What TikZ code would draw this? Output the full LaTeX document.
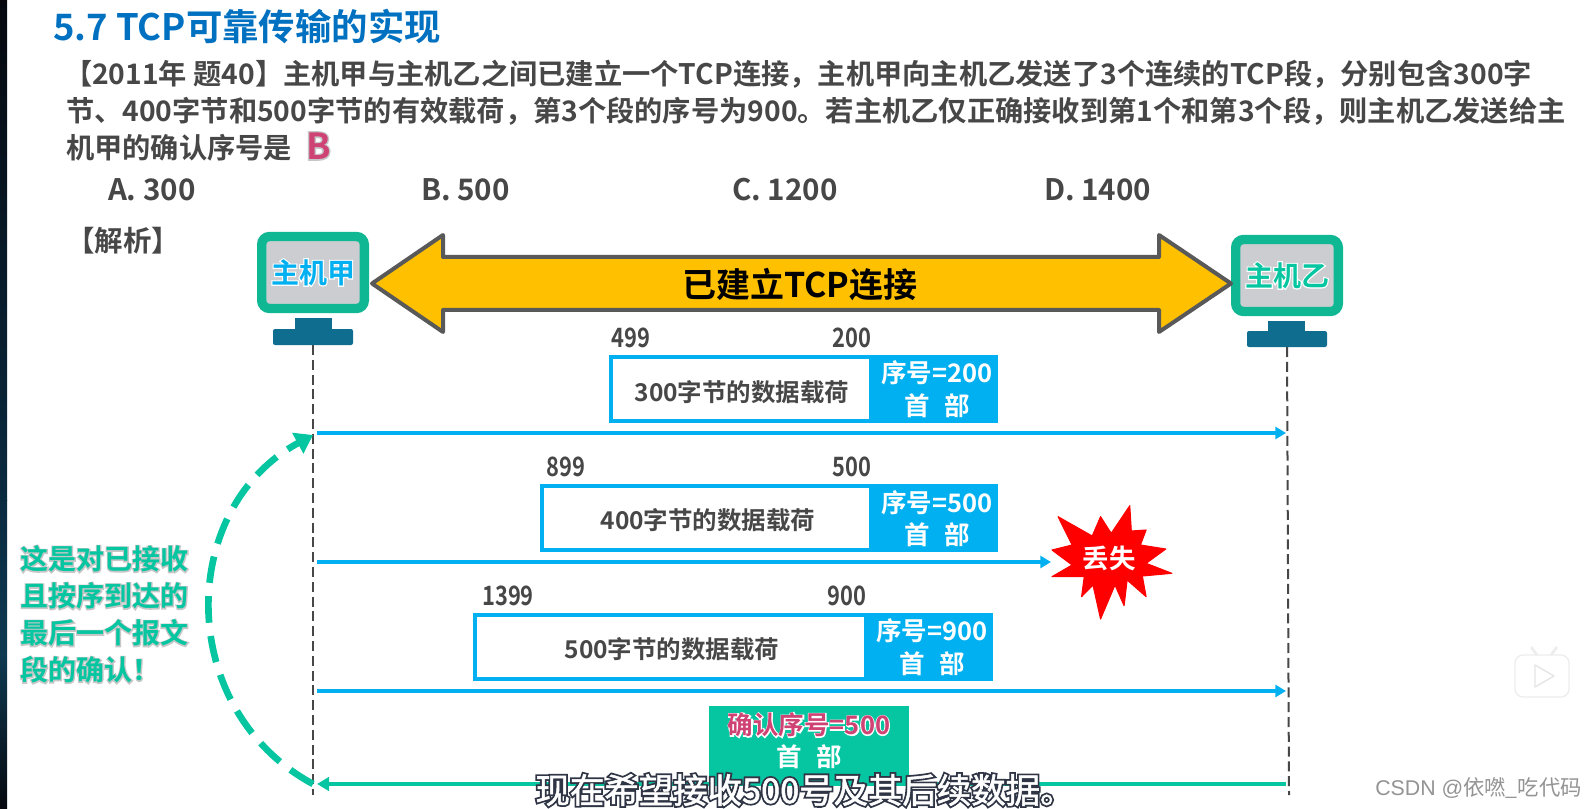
\documentclass[tikz,border=0pt]{standalone}
\usepackage{fontspec}
\usetikzlibrary{arrows.meta}
\setmainfont{Noto Sans CJK SC Bold}
\newfontfamily\halofont{Noto Sans CJK SC Bold}[FakeBold=8]
\newfontfamily\regfont{Noto Sans CJK SC}[FakeBold=1.5]
\newfontfamily\reghalo{Noto Sans CJK SC}[FakeBold=12]
\newfontfamily\numfont{Noto Sans CJK SC Bold}[FakeStretch=0.82]
\newfontfamily\plainfont{Noto Sans CJK SC}
\newfontfamily\markfont{Liberation Sans}
\definecolor{ink}{HTML}{474747}
\definecolor{cyanb}{HTML}{00B0F0}
\definecolor{teal}{HTML}{0FB892}
\definecolor{mint}{HTML}{06C6A2}
\definecolor{base}{HTML}{0F6E8F}
\definecolor{screen}{HTML}{CBCDD0}
\definecolor{pinkb}{HTML}{CF4274}
\definecolor{edge}{HTML}{595959}
\definecolor{amber}{HTML}{FFC000}
\definecolor{titleblue}{HTML}{0070C0}
\definecolor{stripa}{HTML}{06080E}
\definecolor{stripb}{HTML}{0A2A40}
\definecolor{stripc}{HTML}{0F3A52}
\newcommand\pxfont[1]{\pgfmathsetmacro\fsv{#1*0.75}\fontsize{\fsv}{\fsv}\selectfont}
\newcommand\halo[3]{{\leavevmode\makebox[0pt][l]{\color{#1}\halofont #3}\color{#2}#3}}
\tikzset{
  fs/.style={font=\pxfont{#1}},
  txt/.style={inner sep=0pt,outer sep=0pt,text=ink},
  bx/.style={inner sep=0pt,outer sep=0pt,anchor=north west},
  life/.style={draw=ink,line width=1.5pt,dash pattern=on 7.5pt off 3.6pt},
  flow/.style={draw=cyanb,line width=3.4pt,-{Triangle[length=8pt,width=9pt]}},
  back/.style={draw=mint,line width=3.4pt,-{Triangle[length=9pt,width=10pt]}},
  arc/.style={draw=mint,line width=5pt,dash pattern=on 20pt off 10pt,-{Triangle[length=13pt,width=17pt]}},
  pktbody/.style={bx,fill=white,draw=cyanb,line width=3pt},
  pkthead/.style={bx,fill=cyanb},
  hostscr/.style={inner sep=0pt,outer sep=0pt,draw=teal,fill=screen,line width=7pt,rounded corners=6pt,minimum width=77pt,minimum height=54pt},
  hostneck/.style={bx,fill=base,minimum width=27.5pt,minimum height=9pt},
  hostbase/.style={bx,fill=base,rounded corners=1.5pt,minimum width=60pt,minimum height=12pt},
  num/.style={txt,font=\fontsize{20}{20}\numfont},
  data/.style={txt,fs=24.5},
  hd/.style={inner sep=0pt,outer sep=0pt,text=white,fs=25.5},
}
% name, top, bottom, left, header left, right
\newcommand\pktnode[6]{%
  \node[pktbody,minimum width={(#5-#4)*0.75pt},minimum height={(#3-#2)*0.75pt}] (#1b) at (#4,#2) {};%
  \node[pkthead,minimum width={(#6-#5)*0.75pt},minimum height={(#3-#2+4)*0.75pt}] (#1h) at (#5,#2-2) {};%
}
\begin{document}
\begin{tikzpicture}[x=0.75pt,y=-0.75pt]
\useasboundingbox (0,0) rectangle (1592,809);
\fill[white] (0,0) rectangle (1592,809);
\shade[top color=stripa,bottom color=stripb] (0,0) rectangle (7,500);
\shade[top color=stripb,bottom color=stripa,middle color=stripc] (0,500) rectangle (7,809);

% heading and question
\node[inner sep=0pt,anchor=west,text=titleblue,fs=36.4] (title) at (53,26) {5.7 TCP可靠传输的实现};
\node[txt,anchor=west,fs=28.25] (q1) at (64,74) {【2011年 题40】主机甲与主机乙之间已建立一个TCP连接，主机甲向主机乙发送了3个连续的TCP段，分别包含300字};
\node[txt,anchor=west,fs=28.25] (q2) at (66,111) {节、400字节和500字节的有效载荷，第3个段的序号为900。若主机乙仅正确接收到第1个和第3个段，则主机乙发送给主};
\node[txt,anchor=west,fs=28.25] (q3) at (66,148) {机甲的确认序号是};
\node[txt,anchor=west,fs=36] (ans) at (306,146) {\halo{black!22}{pinkb}{B}};
\node[txt,anchor=west,fs=29.6] (oa) at (108,190) {A. 300};
\node[txt,anchor=west,fs=29.6] (ob) at (421,190) {B. 500};
\node[txt,anchor=west,fs=29.6] (oc) at (732,190) {C. 1200};
\node[txt,anchor=west,fs=29.6] (od) at (1044,190) {D. 1400};
\node[txt,anchor=west,fs=28.5] (jx) at (66,241) {【解析】};

% hosts
\node[hostscr] (ha) at (313,272.5) {\pxfont{28}\halo{white}{cyanb}{主机甲}};
\node[hostneck] (han) at (295,318) {};
\node[hostbase] (hab) at (273,329) {};
\node[hostscr] (hb) at (1287,275.5) {\pxfont{28}\halo{white}{mint}{主机乙}};
\node[hostneck] (hbn) at (1268,321) {};
\node[hostbase] (hbb) at (1247,331) {};

% connection arrow
\draw[edge,line width=3pt,fill=amber,line join=round]
  (372,283.5) -- (443,235) -- (443,257) -- (1159,257) -- (1159,235) -- (1231,283.5) -- (1159,332) -- (1159,310) -- (443,310) -- (443,332) -- cycle;
\node[inner sep=0pt,text=black,fs=34] (connt) at (800,285) {已建立TCP连接};

% lifelines
\coordinate (la) at (313,795);
\coordinate (lb) at (1289,795);
\draw[life] (hab.south) -- (la);
\draw[life] (hbb.south) -- (lb);

% packet 1
\pktnode{p1}{357}{421}{611}{871}{998}
\node[num] (p1l) at (631,338) {499};
\node[num] (p1r) at (852,338) {200};
\node[data] (p1t) at (742,392) {300字节的数据载荷};
\node[hd] (p1s) at (937,373) {序号=200};
\node[hd] (p1u) at (937,406) {首\hspace{0.55em}部};
\coordinate (a1s) at (317,433); \coordinate (a1e) at (1286,433);
\draw[flow] (a1s) -- (a1e);

% packet 2
\pktnode{p2}{486}{550}{542}{871}{998}
\node[num] (p2l) at (566,467) {899};
\node[num] (p2r) at (852,467) {500};
\node[data] (p2t) at (708,520) {400字节的数据载荷};
\node[hd] (p2s) at (937,503) {序号=500};
\node[hd] (p2u) at (937,535) {首\hspace{0.55em}部};
\coordinate (a2s) at (317,562); \coordinate (a2e) at (1051,562);
\draw[flow] (a2s) -- (a2e);

% lost burst
\begin{scope}[shift={(1000,450)},x=0.2846pt,y=-0.25pt]
\fill[red,draw=red,line width=0.8pt,line join=round]
 (342,167) -- (346,243) -- (385,240) -- (370,285) -- (437,297) -- (385,340) -- (453,370) -- (375,378) -- (385,440)
 -- (335,390) -- (327,467) -- (303,405) -- (265,507) -- (245,405) -- (215,440) -- (222,380) -- (137,380) -- (190,345)
 -- (137,300) -- (190,285) -- (153,200) -- (243,258) -- (265,200) -- (293,250) -- cycle;
\end{scope}
\node[inner sep=0pt,text=white,fs=26.5] (lost) at (1109,558) {丢失};

% packet 3
\pktnode{p3}{615}{679}{475}{866}{993}
\node[num] (p3l) at (508,596) {1399};
\node[num] (p3r) at (847,596) {900};
\node[data] (p3t) at (672,649) {500字节的数据载荷};
\node[hd] (p3s) at (932,631) {序号=900};
\node[hd] (p3u) at (932,664) {首\hspace{0.55em}部};
\coordinate (a3s) at (317,691); \coordinate (a3e) at (1286,691);
\draw[flow] (a3s) -- (a3e);

% acknowledgement
\node[bx,fill=mint,minimum width=150pt,minimum height=58.5pt] (ack) at (709,706) {};
\node[inner sep=0pt,fs=25.5] (ackt) at (809,725) {\halo{white}{pinkb}{确认序号=500}};
\node[hd] (acku) at (809,757) {首\hspace{0.55em}部};
\coordinate (a4s) at (1286,784); \coordinate (a4e) at (317,784);
\draw[back] (a4s) -- (a4e);

% curved reference
\coordinate (cs) at (313,784); \coordinate (ce) at (313,435);
\draw[arc] (cs) .. controls (176,710) and (176,509) .. (ce);
\node[inner sep=0pt,anchor=west,fs=28] (n1) at (20,559) {\halo{black!22}{mint}{这是对已接收}};
\node[inner sep=0pt,anchor=west,fs=28] (n2) at (20,596) {\halo{black!22}{mint}{且按序到达的}};
\node[inner sep=0pt,anchor=west,fs=28] (n3) at (20,633) {\halo{black!22}{mint}{最后一个报文}};
\node[inner sep=0pt,anchor=west,fs=28] (n4) at (20,670) {\halo{black!22}{mint}{段的确认！}};

% subtitle and overlays
\node[inner sep=0pt,fs=34.4] (sub) at (805,790) {\leavevmode\makebox[0pt][l]{\color[HTML]{2F3545}\reghalo 现在希望接收500号及其后续数据。}\color{white}\regfont 现在希望接收500号及其后续数据。};
\node[inner sep=0pt,anchor=west,text=black!42,font=\fontsize{16}{16}\plainfont] (wm) at (1375,788) {{\markfont CSDN @}依嘫\_吃代码};
\draw[black!7,fill=white,line width=1pt,rounded corners=6pt] (1515,655) rectangle (1569,697);
\draw[black!7,line width=2pt] (1531,647) -- (1537,655) (1557,647) -- (1551,655);
\draw[black!10,line width=1pt,line join=round] (1535,665) -- (1554,676) -- (1535,687) -- cycle;
\end{tikzpicture}
\end{document}
